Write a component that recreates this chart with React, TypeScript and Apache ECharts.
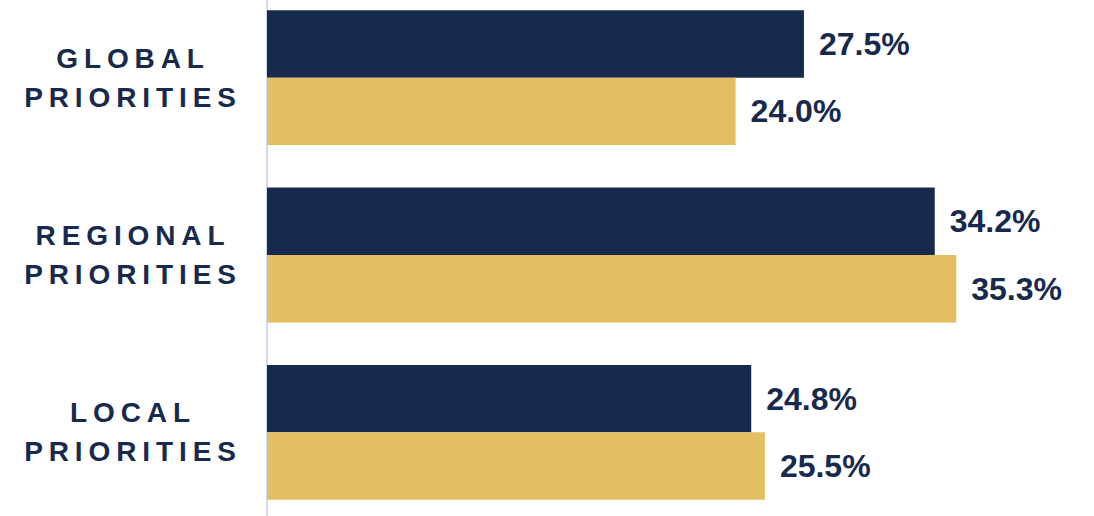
import React, { useEffect, useRef } from "react";
import * as echarts from "echarts";

const categories = ["GLOBAL\nPRIORITIES", "REGIONAL\nPRIORITIES", "LOCAL\nPRIORITIES"];
const seriesA = [27.5, 34.2, 24.8];
const seriesB = [24.0, 35.3, 25.5];

const NAVY = "#172a4d";
const GOLD = "#e3be63";
const FONT = "'Liberation Sans', Arial, sans-serif";

export default function App() {
  const ref = useRef<HTMLDivElement>(null);
  useEffect(() => {
    document.body.style.margin = "0";
    const el = ref.current!;
    const chart = echarts.init(el, null, { renderer: "svg" });
    const label = {
      show: true,
      position: "right",
      distance: 15,
      formatter: (p: any) => p.value.toFixed(1) + "%",
      color: NAVY,
      fontFamily: FONT,
      fontWeight: "bold",
      fontSize: 32,
    };
    chart.setOption({
      animation: false,
      grid: { left: 267, right: 46, top: 0, bottom: 0, containLabel: false, outerBoundsMode: "none" },
      xAxis: { type: "value", min: 0, max: 40, show: false },
      yAxis: {
        type: "category",
        data: categories,
        inverse: true,
        axisLine: { show: true, lineStyle: { color: "#cfdbf0", width: 2 } },
        axisTick: { show: false },
        axisLabel: {
          align: "center",
          margin: 134,
          color: NAVY,
          fontFamily: FONT,
          fontWeight: "bold",
          fontSize: 28,
          lineHeight: 39,
        },
      },
      series: [
        {
          type: "bar",
          data: seriesA,
          barGap: "0%",
          barCategoryGap: "24%",
          itemStyle: { color: NAVY },
          label,
        },
        {
          type: "bar",
          data: seriesB,
          barGap: "0%",
          barCategoryGap: "24%",
          itemStyle: { color: GOLD },
          label,
        },
      ],
    });
    const spacing = () => {
      el.querySelectorAll("text").forEach((t) => {
        const s = (t.textContent || "").trim();
        if (/^[A-Z]+$/.test(s)) (t as SVGTextElement).style.letterSpacing = "5.9px";
      });
    };
    spacing();
    chart.on("finished", spacing);
    return () => chart.dispose();
  }, []);
  return (
    <div style={{ position: "relative", width: 1094, height: 516, overflow: "hidden" }}>
      <div ref={ref} style={{ position: "absolute", left: 0, top: -11, width: 1094, height: 532 }} />
    </div>
  );
}
